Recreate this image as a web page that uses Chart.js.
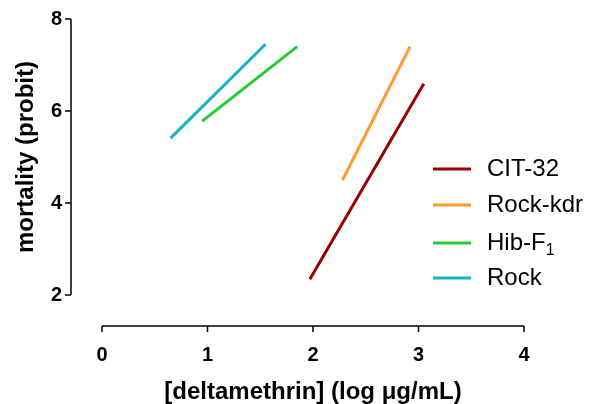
<!DOCTYPE html>
<html>
<head>
<meta charset="utf-8">
<script src="https://cdn.jsdelivr.net/npm/chart.js@4/dist/chart.umd.min.js"></script>
<style>
  html, body { margin: 0; padding: 0; background: #fff; }
  #wrap { width: 591px; height: 404px; }
</style>
</head>
<body>
<div id="wrap"><canvas id="probitChart" width="591" height="404"></canvas></div>
<script>
// series
const seriesNames = ['CIT-32', 'Rock-kdr', 'Hib-F\u2081', 'Rock'];
const seriesColors = ['#990000', '#FF9933', '#22CC33', '#1AAFC8'];

const citX = [1.97, 3.05];
const citY = [2.34, 6.59];
const kdrX = [2.28, 2.92];
const kdrY = [4.50, 7.40];
const hibX = [0.95, 1.85];
const hibY = [5.78, 7.40];
const rockX = [0.65, 1.55];
const rockY = [5.41, 7.45];

const xTicks = [0, 1, 2, 3, 4];
const yTicks = [2, 4, 6, 8];

const seriesX = [citX, kdrX, hibX, rockX];
const seriesY = [citY, kdrY, hibY, rockY];

const FONT = 'Arial, "Liberation Sans", Helvetica, sans-serif';
const AXIS_GAP = 31;   // prism style offset axes
const TICK_LEN = 6;

function toPoints(xs, ys) {
    return xs.map((x, i) => ({ x: x, y: ys[i] }));
}

// offset axis lines + tick marks
const offsetAxes = {
    id: 'offsetAxes',
    afterDraw(chart) {
        const { ctx, chartArea, scales } = chart;
        const xs = scales.x, ys = scales.y;
        const axX = chartArea.left - AXIS_GAP;
        const axY = chartArea.bottom + AXIS_GAP;
        ctx.save();
        ctx.strokeStyle = '#000';
        ctx.lineWidth = 1.5;
        ctx.lineCap = 'butt';
        ctx.beginPath();
        ctx.moveTo(axX, ys.getPixelForValue(yTicks[0]));
        ctx.lineTo(axX, ys.getPixelForValue(yTicks[yTicks.length - 1]));
        yTicks.forEach(v => {
            const p = ys.getPixelForValue(v);
            ctx.moveTo(axX, p);
            ctx.lineTo(axX - TICK_LEN, p);
        });
        ctx.moveTo(xs.getPixelForValue(xTicks[0]), axY);
        ctx.lineTo(xs.getPixelForValue(xTicks[xTicks.length - 1]), axY);
        xTicks.forEach(v => {
            const p = xs.getPixelForValue(v);
            ctx.moveTo(p, axY);
            ctx.lineTo(p, axY + TICK_LEN);
        });
        ctx.stroke();
        ctx.restore();
    }
};

// legend inside the plot, with subscript for Hib-F1
const insideLegend = {
    id: 'insideLegend',
    afterDraw(chart) {
        const ctx = chart.ctx;
        const x0 = 433, x1 = 471, tx = 487;
        const rows = [169, 205, 243, 278];
        ctx.save();
        ctx.textBaseline = 'middle';
        ctx.textAlign = 'left';
        chart.data.datasets.forEach((ds, i) => {
            const y = rows[i];
            ctx.strokeStyle = ds.borderColor;
            ctx.lineWidth = 3;
            ctx.beginPath();
            ctx.moveTo(x0, y);
            ctx.lineTo(x1, y);
            ctx.stroke();
            ctx.fillStyle = '#000';
            ctx.font = '24px ' + FONT;
            const label = ds.label;
            if (label.endsWith('\u2081')) {
                const main = label.slice(0, -1);
                ctx.fillText(main, tx, y);
                const w = ctx.measureText(main).width;
                ctx.font = '16px ' + FONT;
                ctx.fillText('1', tx + w, y + 8);
            } else {
                ctx.fillText(label, tx, y);
            }
        });
        ctx.restore();
    }
};

const ctx = document.getElementById('probitChart').getContext('2d');
const probitChart = new Chart(ctx, {
    type: 'scatter',
    data: {
        datasets: seriesNames.map((name, i) => ({
            label: name,
            data: toPoints(seriesX[i], seriesY[i]),
            showLine: true,
            borderColor: seriesColors[i],
            backgroundColor: seriesColors[i],
            borderWidth: 3,
            pointRadius: 0,
            pointHoverRadius: 0,
            fill: false
        }))
    },
    options: {
        responsive: false,
        animation: false,
        layout: { padding: { top: 19, right: 67, bottom: 0, left: 0 } },
        scales: {
            x: {
                type: 'linear',
                min: 0,
                max: 4,
                afterFit(scale) {
                    scale.height = 109;
                    scale.paddingLeft = 0;
                    scale.paddingRight = 0;
                },
                afterBuildTicks(scale) { scale.ticks = xTicks.map(v => ({ value: v })); },
                grid: { display: false, drawTicks: false },
                border: { display: false },
                ticks: {
                    color: '#000',
                    padding: 48,
                    maxRotation: 0,
                    font: { family: FONT, size: 20, weight: 'bold' }
                },
                title: {
                    display: true,
                    text: '[deltamethrin] (log \u03BCg/mL)',
                    color: '#000',
                    padding: { top: 0, bottom: 0 },
                    font: { family: FONT, size: 24, weight: 'bold', lineHeight: 1 }
                }
            },
            y: {
                type: 'linear',
                min: 2,
                max: 8,
                afterFit(scale) {
                    scale.width = 102;
                    scale.paddingTop = 0;
                    scale.paddingBottom = 0;
                },
                afterBuildTicks(scale) { scale.ticks = yTicks.map(v => ({ value: v })); },
                grid: { display: false, drawTicks: false },
                border: { display: false },
                ticks: {
                    color: '#000',
                    padding: 40,
                    font: { family: FONT, size: 20, weight: 'bold' }
                },
                title: {
                    display: true,
                    text: 'mortality (probit)',
                    color: '#000',
                    padding: { top: 14, bottom: 0 },
                    font: { family: FONT, size: 24, weight: 'bold', lineHeight: 1 }
                }
            }
        },
        plugins: {
            legend: { display: false },
            tooltip: { enabled: false }
        }
    },
    plugins: [offsetAxes, insideLegend]
});
</script>
</body>
</html>
